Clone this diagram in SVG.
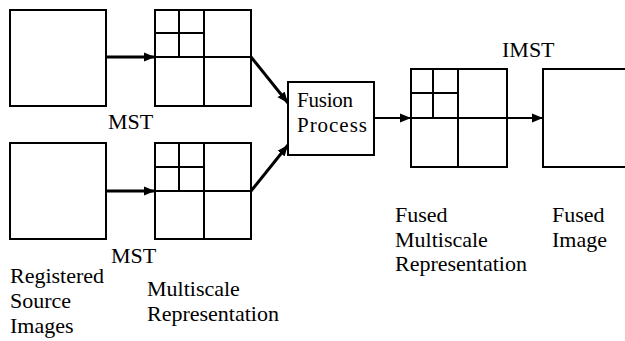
<svg xmlns="http://www.w3.org/2000/svg" width="625" height="341" viewBox="0 0 625 341">
<style>
.box{fill:#fff;stroke:#000;stroke-width:2}
.grid{stroke:#000;stroke-width:2;fill:none}
.c{stroke:#000;fill:none}
text{font-family:'Liberation Serif','DejaVu Serif',serif;fill:#000}
.t{font-size:22px}
.f{font-size:21px}
</style>
<defs>
<marker id="ah" markerUnits="userSpaceOnUse" markerWidth="12" markerHeight="10" refX="11" refY="5" orient="auto">
<path d="M0,0.5 L11,5 L0,9.5 Z" fill="#000"/>
</marker>
</defs>
<g id="src1"><rect class="box" x="10" y="10" width="96" height="96"/></g>
<g id="src2"><rect class="box" x="10" y="143" width="96" height="96"/></g>
<g id="ms1">
<rect class="box" x="155" y="10" width="96" height="96"/>
<path class="grid" d="M155,57H251M204,10V106M155,33H204M179,10V57"/>
</g>
<g id="ms2">
<rect class="box" x="155" y="143" width="96" height="96"/>
<path class="grid" d="M155,191H251M204,143V239M155,167H204M179,143V191"/>
</g>
<g id="fusion">
<rect class="box" x="288" y="82" width="86" height="73"/>
<text class="f" x="297" y="107" textLength="56" font-family="Liberation Serif, serif">Fusion</text>
<text class="f" x="297" y="132" textLength="70" font-family="Liberation Serif, serif">Process</text>
</g>
<g id="fusedms">
<rect class="box" x="411" y="69" width="96" height="98"/>
<path class="grid" d="M411,118H507M458,69V167M411,93H458M433,69V118"/>
</g>
<g id="fusedimg"><rect class="box" x="543" y="69" width="100" height="98"/></g>
<g id="connectors">
<line class="c" stroke-width="3" x1="106" y1="57" x2="155" y2="57" marker-end="url(#ah)"/>
<line class="c" stroke-width="3" x1="106" y1="191" x2="155" y2="191" marker-end="url(#ah)"/>
<line class="c" stroke-width="3" x1="251" y1="57" x2="288" y2="103" marker-end="url(#ah)"/>
<line class="c" stroke-width="3" x1="251" y1="191" x2="288" y2="145" marker-end="url(#ah)"/>
<line class="c" stroke-width="2" x1="374" y1="118" x2="411" y2="118" marker-end="url(#ah)"/>
<line class="c" stroke-width="2" x1="507" y1="118" x2="543" y2="118" marker-end="url(#ah)"/>
</g>
<g id="labels">
<text class="t" x="108" y="129">MST</text>
<text class="t" x="111" y="263">MST</text>
<text class="t" x="502" y="57">IMST</text>
<text class="t" x="10" y="283">Registered</text>
<text class="t" x="10" y="308">Source</text>
<text class="t" x="10" y="333">Images</text>
<text class="t" x="147" y="296">Multiscale</text>
<text class="t" x="147" y="321">Representation</text>
<text class="t" x="395" y="222">Fused</text>
<text class="t" x="395" y="247">Multiscale</text>
<text class="t" x="395" y="271">Representation</text>
<text class="t" x="552" y="222">Fused</text>
<text class="t" x="552" y="247">Image</text>
</g>
</svg>
